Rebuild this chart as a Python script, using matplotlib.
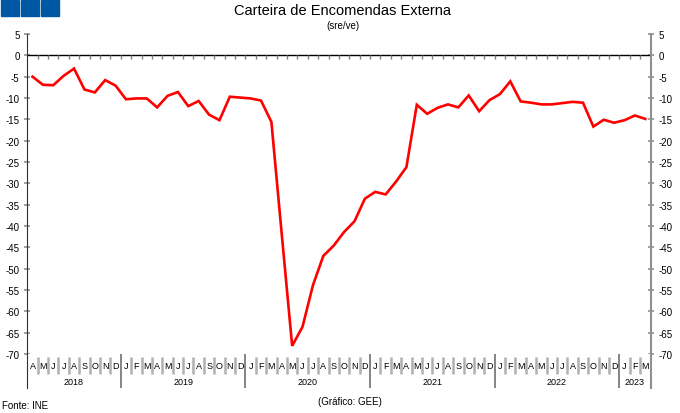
import matplotlib.pyplot as plt
from matplotlib.patches import Rectangle

# ======================================================
# Data (sre/ve), Apr 2018 - Mar 2023
# ======================================================

month_letters = ["J", "F", "M", "A", "M", "J", "J", "A", "S", "O", "N", "D"]
start_month = 3  # April
years = ["2018", "2019", "2020", "2021", "2022", "2023"]

values = [
    -5.0, -6.9, -7.0, -4.8, -3.1, -8.0, -8.7, -5.8, -7.1,            # 2018
    -10.3, -10.1, -10.1, -12.2, -9.5, -8.6, -11.9, -10.7, -13.9,
    -15.2, -9.7, -9.9,                                                # 2019
    -10.1, -10.6, -15.6, -42.0, -68.1, -63.6, -53.9, -47.0, -44.6,
    -41.4, -38.9, -33.6,                                              # 2020
    -32.0, -32.6, -29.6, -26.2, -11.6, -13.7, -12.3, -11.5, -12.2,
    -9.4, -13.1, -10.5,                                               # 2021
    -9.1, -6.1, -10.8, -11.1, -11.5, -11.5, -11.2, -10.9, -11.1,
    -16.7, -15.1, -15.8,                                              # 2022
    -15.2, -14.1, -14.9,                                              # 2023
]

y_ticks = list(range(5, -75, -5))

# ======================================================
# Figure
# ======================================================

plt.rcParams["font.family"] = ["Liberation Sans", "DejaVu Sans"]

W, H = 680, 414
fig = plt.figure(figsize=(W / 100, H / 100), dpi=100)

x_left, x_right = 27.3, 650.5
y_top, y_bottom, y_band = 35, 355, 389

ax = fig.add_axes([
    x_left / W,
    (H - y_bottom) / H,
    (x_right - x_left) / W,
    (y_bottom - y_top) / H
])

n = len(values)
xs = [i + 0.5 for i in range(n)]

ax.plot(xs, values, color="#ff0000", linewidth=1.9, solid_joinstyle="miter")

ax.set_xlim(0, n)
ax.set_ylim(-70, 5)

# zero line with month ticks
ax.axhline(0, color="black", linewidth=1.0)
ax.vlines(range(1, n), -0.75, 0, color="#808080", linewidth=1.0)

ax.set_xticks([])
ax.set_yticks(y_ticks)
ax.set_yticklabels([str(t) for t in y_ticks])
ax.tick_params(
    axis="y",
    direction="inout",
    length=5,
    width=1.2,
    color="#909090",
    labelsize=7,
    right=True,
    labelright=True,
    pad=3
)

for side in ["top", "bottom"]:
    ax.spines[side].set_visible(False)
ax.spines["left"].set_color("#303030")
ax.spines["right"].set_color("#909090")
ax.spines["right"].set_linewidth(1.5)

# ======================================================
# Month / year band
# ======================================================

axm = fig.add_axes([
    x_left / W,
    (H - y_band) / H,
    (x_right - x_left) / W,
    (y_band - y_bottom) / H
])
axm.set_xlim(0, n)
axm.set_ylim(0, 1)
axm.set_xticks([])
axm.set_yticks([])
for side in ["top", "bottom"]:
    axm.spines[side].set_visible(False)
axm.spines["left"].set_color("#303030")
axm.spines["right"].set_color("#909090")
axm.spines["right"].set_linewidth(1.5)

year_starts = [0]
for i in range(n):
    m = (start_month + i) % 12
    axm.text(i + 0.5, 0.66, month_letters[m], ha="center", va="center",
             fontsize=6.5)
    if i > 0:
        if m == 0:
            axm.axvline(i, color="#707070", linewidth=1.2)
            year_starts.append(i)
        else:
            axm.vlines(i, 0.4, 0.92, color="#b0b0b0", linewidth=1.8)
year_starts.append(n)

for k, yr in enumerate(years):
    cx = (year_starts[k] + year_starts[k + 1]) / 2
    axm.text(cx, 0.2, yr, ha="center", va="center", fontsize=6.5)

# ======================================================
# Titles, logo, footer
# ======================================================

fig.text(343 / W, 1 - 11 / H, "Carteira de Encomendas Externa",
         ha="center", va="center", fontsize=10.5)
fig.text(343 / W, 1 - 26 / H, "(sre/ve)",
         ha="center", va="center", fontsize=7)

for x0 in [1, 21, 41]:
    fig.patches.append(Rectangle(
        (x0 / W, 1 - 17 / H), 18.3 / W, 16 / H,
        transform=fig.transFigure, color="#0057a3"
    ))

fig.text(2 / W, 1 - 406 / H, "Fonte: INE", ha="left", va="center",
         fontsize=7)
fig.text(350 / W, 1 - 402 / H, "(Gráfico: GEE)", ha="center",
         va="center", fontsize=7)

plt.savefig("out.png", dpi=100)
